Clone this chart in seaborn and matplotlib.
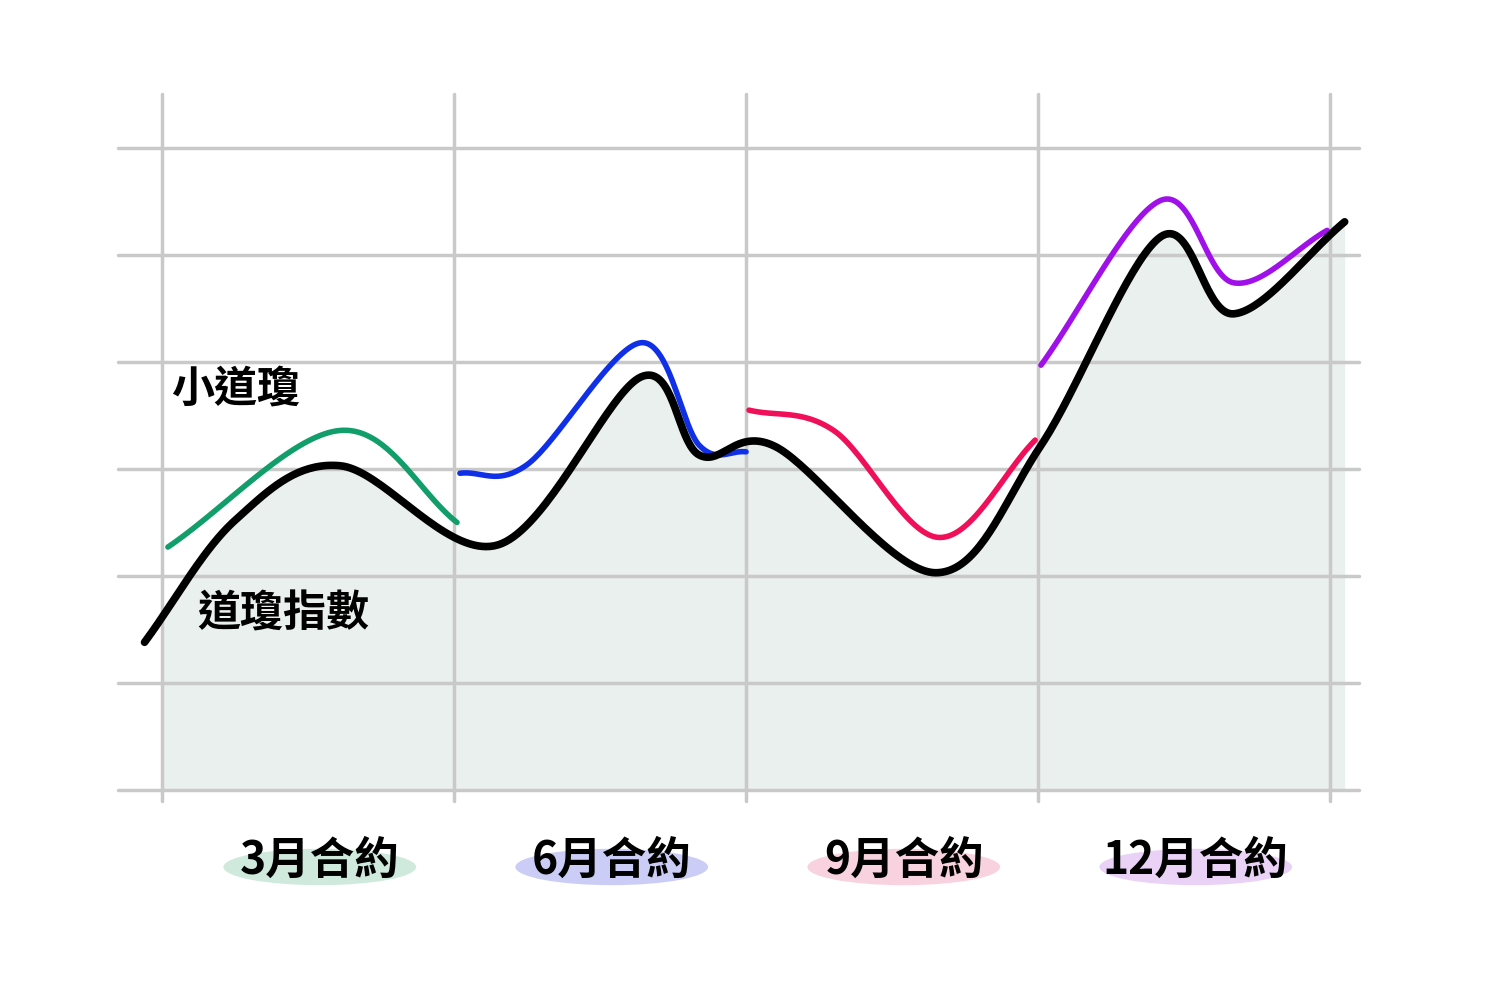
import matplotlib
matplotlib.use("Agg")
import matplotlib.pyplot as plt
from matplotlib.patches import Ellipse
import numpy as np
import pandas as pd
import seaborn as sns

sns.set_theme(style="white")
plt.rcParams["font.family"] = ["Noto Sans CJK TC", "DejaVu Sans"]

# contract quarters on x (0..4), index level in grid units on y (0..6)
contracts = ["3月合約", "6月合約", "9月合約", "12月合約"]
contract_colors = ["#129e6a", "#1030e8", "#f0105a", "#a010e8"]
badge_colors = ["#cfeadc", "#cbcdf6", "#f8d2de", "#ead2f7"]

dow_x = [-0.06, 0.25, 0.61, 1.15, 1.64, 1.84, 2.10, 2.65, 3.01, 3.42, 3.67, 4.05]
dow_y = [1.38, 2.52, 3.03, 2.29, 3.86, 3.13, 3.21, 2.03, 3.22, 5.17, 4.45, 5.31]

mini_x = [
    [0.02, 0.61, 1.01],
    [1.02, 1.25, 1.64, 1.84, 2.0],
    [2.01, 2.30, 2.66, 2.99],
    [3.01, 3.42, 3.67, 3.99],
]
mini_y = [
    [2.27, 3.36, 2.50],
    [2.96, 3.04, 4.18, 3.22, 3.16],
    [3.55, 3.36, 2.36, 3.27],
    [3.97, 5.51, 4.74, 5.23],
]


def smooth(xs, ys, n=40):
    # Catmull-Rom curve through the read points (drawing only)
    p = np.column_stack([xs, ys]).astype(float)
    p = np.vstack([2 * p[0] - p[1], p, 2 * p[-1] - p[-2]])
    out = []
    t = np.linspace(0, 1, n)[:, None]
    for i in range(1, len(p) - 2):
        p0, p1, p2, p3 = p[i - 1], p[i], p[i + 1], p[i + 2]
        seg = 0.5 * ((2 * p1) + (-p0 + p2) * t + (2 * p0 - 5 * p1 + 4 * p2 - p3) * t**2
                     + (-p0 + 3 * p1 - 3 * p2 + p3) * t**3)
        out.append(seg if i == 1 else seg[1:])
    out = np.vstack(out)
    return pd.DataFrame({"x": out[:, 0], "y": out[:, 1]})


fig = plt.figure(figsize=(15, 9.91), dpi=100)
ax = fig.add_axes([0, 0, 1, 1])
ax.set_xlim(-0.555, 4.582)
ax.set_ylim(-1.879, 7.383)
ax.axis("off")

for gy in range(7):
    ax.plot([-0.15, 4.1], [gy, gy], color="#c9c9c9", lw=2.5, zorder=1)
for gx in range(5):
    ax.plot([gx, gx], [-0.1, 6.5], color="#c9c9c9", lw=2.5, zorder=1)

dow = smooth(dow_x, dow_y)
clip = dow[dow["x"] >= 0.0]
ax.fill_between(clip["x"], 0, clip["y"], color="#e2ece7", alpha=0.75, zorder=0, lw=0)

for i in range(4):
    d = smooth(mini_x[i], mini_y[i])
    sns.lineplot(data=d, x="x", y="y", sort=False, color=contract_colors[i], lw=4, ax=ax, zorder=3)
sns.lineplot(data=dow, x="x", y="y", sort=False, color="black", lw=5.5, ax=ax, zorder=4)

ax.text(0.03, 3.75, "小道瓊", fontsize=31, fontweight="bold", color="black", va="center", ha="left")
ax.text(0.12, 1.65, "道瓊指數", fontsize=31, fontweight="bold", color="black", va="center", ha="left")

for i, name in enumerate(contracts):
    cx = i + 0.54
    ax.add_patch(Ellipse((cx, -0.72), 0.66, 0.34, color=badge_colors[i], zorder=1, lw=0))
    ax.text(cx, -0.66, name, fontsize=32, fontweight="bold", color="black", ha="center", va="center", zorder=2)

ax.set_xlabel("")
ax.set_ylabel("")
fig.savefig("out.png", dpi=100)
